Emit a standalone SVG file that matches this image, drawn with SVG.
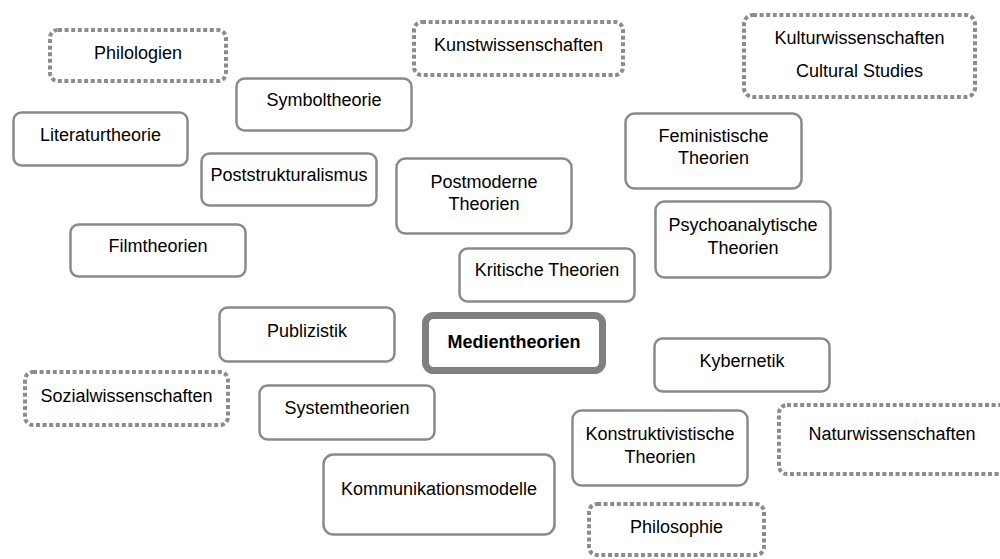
<svg xmlns="http://www.w3.org/2000/svg" width="1000" height="559" viewBox="0 0 1000 559">
<style>
.n{fill:#fff;stroke:#8a8a8a;stroke-width:2.5}
.d{fill:#fff;stroke:#8c8c8c;stroke-width:4;stroke-dasharray:4 2.6}
.m{fill:#fff;stroke:#808080;stroke-width:7}
text{font-family:"Liberation Sans",Arial,sans-serif;font-size:18px;fill:#000;text-anchor:middle}
.b{font-weight:bold}
</style>
<rect width="1000" height="559" fill="#fff"/>
<g id="connectors"></g>
<g id="philologien"><rect class="d" x="50" y="30" width="176" height="51" rx="8"/><text x="138" y="59">Philologien</text></g>
<g id="kunstwissenschaften"><rect class="d" x="414" y="22" width="209" height="53" rx="8"/><text x="518.5" y="51">Kunstwissenschaften</text></g>
<g id="kulturwissenschaften"><rect class="d" x="744" y="15" width="231" height="82" rx="9"/><text x="859.5" y="44">Kulturwissenschaften</text><text x="859.5" y="77">Cultural Studies</text></g>
<g id="symboltheorie"><rect class="n" x="236.5" y="78.5" width="175" height="52" rx="8"/><text x="324" y="106">Symboltheorie</text></g>
<g id="literaturtheorie"><rect class="n" x="13.5" y="112.5" width="174" height="53" rx="8"/><text x="100.5" y="141">Literaturtheorie</text></g>
<g id="poststrukturalismus"><rect class="n" x="201.5" y="153.5" width="175" height="52" rx="8"/><text x="289" y="181">Poststrukturalismus</text></g>
<g id="postmoderne"><rect class="n" x="396.5" y="158.5" width="175" height="75" rx="9"/><text x="484" y="188">Postmoderne</text><text x="484" y="210">Theorien</text></g>
<g id="filmtheorien"><rect class="n" x="70.5" y="224.5" width="175" height="52" rx="8"/><text x="158" y="252">Filmtheorien</text></g>
<g id="feministische"><rect class="n" x="625.5" y="113.5" width="176" height="75" rx="9"/><text x="713.5" y="142">Feministische</text><text x="713.5" y="164">Theorien</text></g>
<g id="psychoanalytische"><rect class="n" x="655.5" y="201.5" width="175" height="76" rx="9"/><text x="743" y="231">Psychoanalytische</text><text x="743" y="254">Theorien</text></g>
<g id="kritische"><rect class="n" x="459.5" y="248.5" width="175" height="53" rx="8"/><text x="547" y="276">Kritische Theorien</text></g>
<g id="publizistik"><rect class="n" x="219.5" y="307.5" width="175" height="54" rx="8"/><text x="307" y="337">Publizistik</text></g>
<g id="medientheorien"><rect class="m" x="425.5" y="315.5" width="177" height="55" rx="8"/><text class="b" x="514" y="348">Medientheorien</text></g>
<g id="sozialwissenschaften"><rect class="d" x="25" y="372" width="203" height="53" rx="8"/><text x="126.5" y="402">Sozialwissenschaften</text></g>
<g id="systemtheorien"><rect class="n" x="259.5" y="385.5" width="175" height="54" rx="8"/><text x="347" y="414">Systemtheorien</text></g>
<g id="kommunikationsmodelle"><rect class="n" x="323.5" y="454.5" width="231" height="80" rx="10"/><text x="439" y="495">Kommunikationsmodelle</text></g>
<g id="kybernetik"><rect class="n" x="654.5" y="338.5" width="175" height="53" rx="8"/><text x="742" y="367">Kybernetik</text></g>
<g id="konstruktivistische"><rect class="n" x="572.5" y="410.5" width="175" height="75" rx="9"/><text x="660" y="440">Konstruktivistische</text><text x="660" y="463">Theorien</text></g>
<g id="naturwissenschaften"><rect class="d" x="779" y="405" width="228" height="69" rx="8"/><text x="892" y="440">Naturwissenschaften</text></g>
<g id="philosophie"><rect class="d" x="589" y="504" width="175" height="51" rx="8"/><text x="676.5" y="533">Philosophie</text></g>
</svg>
